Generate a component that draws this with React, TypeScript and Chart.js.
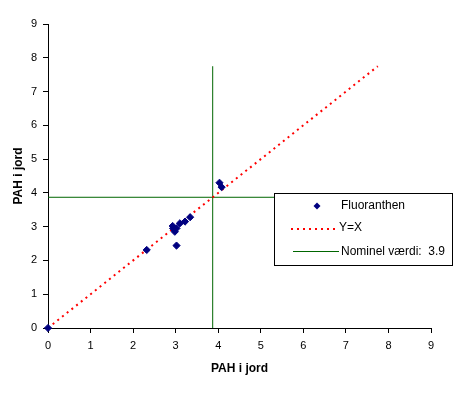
import React, { useEffect, useRef } from "react";
import { Chart, registerables } from "chart.js";

Chart.register(...registerables);

// Data
const fluorX = [0, 2.32, 3.02, 2.94, 3.02, 2.98, 2.93, 3.1, 3.22, 3.34, 4.03, 4.08];
const fluorY = [0, 2.31, 2.44, 2.95, 2.95, 2.85, 3.02, 3.1, 3.15, 3.28, 4.3, 4.17];
const yxX = [0, 7.75];
const yxY = [0, 7.75];
const nominalValue = 3.87;
const nominalEnd = 7.75;
const axisMin = 0;
const axisMax = 9;
const seriesLabels = ["Fluoranthen", "Y=X", "Nominel værdi:  3.9"];
const axisTitle = "PAH i jord";

const NAVY = "#000080";
const RED = "#FF0000";
const GREEN = "#006600";
const FONT = "'Liberation Sans', Arial, sans-serif";

const legendPlugin = {
  id: "boxLegend",
  afterDatasetsDraw(chart: any) {
    const ctx = chart.ctx;
    ctx.save();
    const bx = 274.5, by = 193.5, bw = 178, bh = 72;
    ctx.fillStyle = "#ffffff";
    ctx.fillRect(bx, by, bw, bh);
    ctx.strokeStyle = "#000000";
    ctx.lineWidth = 1;
    ctx.strokeRect(bx, by, bw, bh);

    const textX = 341;
    ctx.font = "12px " + FONT;
    ctx.fillStyle = "#000";
    ctx.textBaseline = "middle";
    ctx.textAlign = "left";

    // Row 1: diamond marker
    const r1 = 206;
    ctx.fillStyle = NAVY;
    ctx.beginPath();
    ctx.moveTo(317, r1 - 3.5);
    ctx.lineTo(320.5, r1);
    ctx.lineTo(317, r1 + 3.5);
    ctx.lineTo(313.5, r1);
    ctx.closePath();
    ctx.fill();
    ctx.fillStyle = "#000";
    ctx.fillText(seriesLabels[0], textX, r1);

    // Row 2: red dotted
    const r2 = 229;
    ctx.strokeStyle = RED;
    ctx.lineWidth = 2;
    ctx.setLineDash([2, 4]);
    ctx.beginPath();
    ctx.moveTo(291, r2);
    ctx.lineTo(337, r2);
    ctx.stroke();
    ctx.setLineDash([]);
    ctx.fillText(seriesLabels[1], 339, r2 - 1);

    // Row 3: green line
    const r3 = 251.5;
    ctx.strokeStyle = GREEN;
    ctx.lineWidth = 1;
    ctx.beginPath();
    ctx.moveTo(293, r3);
    ctx.lineTo(339, r3);
    ctx.stroke();
    ctx.fillText(seriesLabels[2], textX, r3);

    ctx.restore();
  },
};

export default function App() {
  const ref = useRef<HTMLCanvasElement | null>(null);

  useEffect(() => {
    if (!ref.current) return;
    Chart.defaults.font.family = FONT;
    Chart.defaults.color = "#000";

    const chart = new Chart(ref.current, {
      type: "scatter",
      data: {
        datasets: [
          {
            label: seriesLabels[0],
            data: fluorX.map((x, i) => ({ x, y: fluorY[i] })),
            pointStyle: "rectRot",
            pointRadius: 3.6,
            backgroundColor: NAVY,
            borderColor: NAVY,
            borderWidth: 1,
            showLine: false,
            clip: false,
            order: 0,
          },
          {
            label: seriesLabels[1],
            data: yxX.map((x, i) => ({ x, y: yxY[i] })),
            showLine: true,
            borderColor: RED,
            borderWidth: 2,
            borderDash: [2, 4],
            pointRadius: 0,
            fill: false,
            order: 1,
          },
          {
            label: seriesLabels[2],
            data: [
              { x: nominalValue, y: axisMin },
              { x: nominalValue, y: nominalEnd },
            ],
            showLine: true,
            borderColor: GREEN,
            borderWidth: 1,
            pointRadius: 0,
            fill: false,
            order: 2,
          },
          {
            label: "",
            data: [
              { x: axisMin, y: nominalValue },
              { x: nominalEnd, y: nominalValue },
            ],
            showLine: true,
            borderColor: GREEN,
            borderWidth: 1,
            pointRadius: 0,
            fill: false,
            order: 2,
          },
        ],
      },
      options: {
        responsive: false,
        animation: false,
        layout: { padding: { top: 24, right: 31, left: 0, bottom: 0 } },
        plugins: {
          legend: { display: false },
          tooltip: { enabled: false },
        },
        scales: {
          x: {
            type: "linear",
            min: axisMin,
            max: axisMax,
            ticks: { stepSize: 1, padding: 6, font: { size: 11 }, color: "#000" },
            grid: { drawOnChartArea: false, drawTicks: true, tickLength: 5, color: "#000" },
            border: { display: true, color: "#000", width: 1 },
            title: {
              display: true,
              text: axisTitle,
              font: { size: 12, weight: "bold" },
              color: "#000",
              padding: { top: 0, bottom: 19 },
            },
            afterFit: (s: any) => {
              s.height = 67;
            },
          },
          y: {
            type: "linear",
            min: axisMin,
            max: axisMax,
            ticks: { stepSize: 1, padding: 6, font: { size: 11 }, color: "#000" },
            grid: { drawOnChartArea: false, drawTicks: true, tickLength: 5, color: "#000" },
            border: { display: true, color: "#000", width: 1 },
            title: {
              display: true,
              text: axisTitle,
              font: { size: 12, weight: "bold" },
              color: "#000",
              padding: { top: 11, bottom: 0 },
            },
            afterFit: (s: any) => {
              s.width = 48;
            },
          },
        },
      },
      plugins: [legendPlugin],
    } as any);
    return () => chart.destroy();
  }, []);

  return (
    <div style={{ position: "fixed", left: 0, top: 0, width: 462, height: 395, background: "#fff" }}>
      <canvas ref={ref} width={462} height={395} style={{ display: "block" }} />
    </div>
  );
}
